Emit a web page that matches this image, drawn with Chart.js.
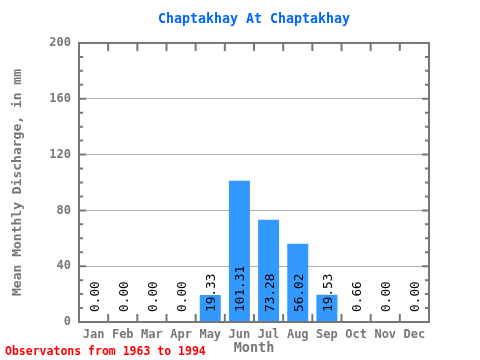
<!DOCTYPE html>
<html><head><meta charset="utf-8">
<script src="https://cdn.jsdelivr.net/npm/chart.js@4/dist/chart.umd.min.js"></script>
<style>html,body{margin:0;padding:0;background:#fff}</style>
</head><body>
<canvas id="c" width="480" height="360"></canvas>
<script>
const months = ['Jan','Feb','Mar','Apr','May','Jun','Jul','Aug','Sep','Oct','Nov','Dec'];
const discharge = [0, 0, 0, 0, 19.33, 101.31, 73.28, 56.02, 19.53, 0.66, 0, 0];
const valueLabels = ['0.00','0.00','0.00','0.00','19.33','101.31','73.28','56.02','19.53','0.66','0.00','0.00'];
const yTickValues = [0, 40, 80, 120, 160, 200];
const titleText = 'Chaptakhay At Chaptakhay';
const yTitleText = 'Mean Monthly Discharge, in mm';
const xTitleText = 'Month';
const noteText = 'Observatons from 1963 to 1994';

const MONO = '"DejaVu Sans Mono", "Liberation Mono", monospace';
const GREY = '#777777';

const decor = {
  id: 'decor',
  afterDatasetsDraw(chart) {
    const {ctx, chartArea: a, scales: {x, y}} = chart;
    ctx.save();
    ctx.strokeStyle = GREY;
    ctx.lineWidth = 2;
    ctx.beginPath();
    for (let v = 0; v <= 200; v += 10) {
      const py = y.getPixelForValue(v);
      const len = (v % 40 === 0) ? 7 : 4;
      ctx.moveTo(a.left, py); ctx.lineTo(a.left + len, py);
      ctx.moveTo(a.right, py); ctx.lineTo(a.right - len, py);
    }
    for (let i = 1; i < months.length; i++) {
      const px = x.getPixelForValue(i - 0.5);
      ctx.moveTo(px, a.bottom); ctx.lineTo(px, a.bottom - 8);
      ctx.moveTo(px, a.top); ctx.lineTo(px, a.top + 8);
    }
    ctx.stroke();
    ctx.strokeRect(a.left, a.top, a.right - a.left, a.bottom - a.top);

    // value labels
    ctx.fillStyle = '#000';
    ctx.font = '12.8px ' + MONO;
    ctx.textAlign = 'left';
    ctx.textBaseline = 'alphabetic';
    const y0 = y.getPixelForValue(0);
    for (let i = 0; i < months.length; i++) {
      const cx = x.getPixelForValue(i);
      ctx.save();
      ctx.translate(cx + 5, y0 - 10);
      ctx.rotate(-Math.PI / 2);
      ctx.fillText(valueLabels[i], 0, 0);
      ctx.restore();
    }

    // note
    ctx.fillStyle = '#ff0000';
    ctx.font = 'bold 11.5px ' + MONO;
    ctx.textBaseline = 'middle';
    ctx.fillText(noteText, 5, 352);
    ctx.restore();
  }
};

new Chart(document.getElementById('c'), {
  type: 'bar',
  data: {
    labels: months,
    datasets: [{
      data: discharge,
      backgroundColor: '#3399ff',
      borderWidth: 0,
      barPercentage: 0.72,
      categoryPercentage: 1.0
    }]
  },
  options: {
    responsive: false,
    animation: false,
    devicePixelRatio: 1,
    layout: {padding: {left: 0, right: 51, top: 0, bottom: 0}},
    plugins: {
      legend: {display: false},
      tooltip: {enabled: false},
      title: {
        display: true,
        text: titleText,
        fullSize: false,
        color: '#0066ff',
        font: {family: MONO, size: 13.3, weight: 'bold'},
        padding: {top: 12, bottom: 15}
      }
    },
    scales: {
      x: {
        grid: {display: false, drawTicks: false},
        border: {display: false},
        ticks: {color: GREY, font: {family: MONO, size: 12, weight: 'bold'}, padding: 6, maxRotation: 0},
        title: {display: true, text: xTitleText, color: GREY, font: {family: MONO, size: 13.5, weight: 'bold'}, padding: {top: 0, bottom: 3}},
        afterFit(s) { s.height = 38; }
      },
      y: {
        min: 0, max: 200,
        afterBuildTicks(s) { s.ticks = yTickValues.map(v => ({value: v})); },
        grid: {
          drawTicks: false,
          color: ctx => (ctx.tick && ctx.tick.value > 0 && ctx.tick.value < 200) ? '#b0b0b0' : 'rgba(0,0,0,0)',
          lineWidth: 1
        },
        border: {display: false},
        ticks: {color: GREY, font: {family: MONO, size: 12, weight: 'bold'}, padding: 8},
        title: {display: true, text: yTitleText, color: GREY, font: {family: MONO, size: 13, weight: 'bold'}, padding: {top: 10, bottom: 0}},
        afterFit(s) { s.width = 79; }
      }
    }
  },
  plugins: [decor]
});
</script>
</body></html>
